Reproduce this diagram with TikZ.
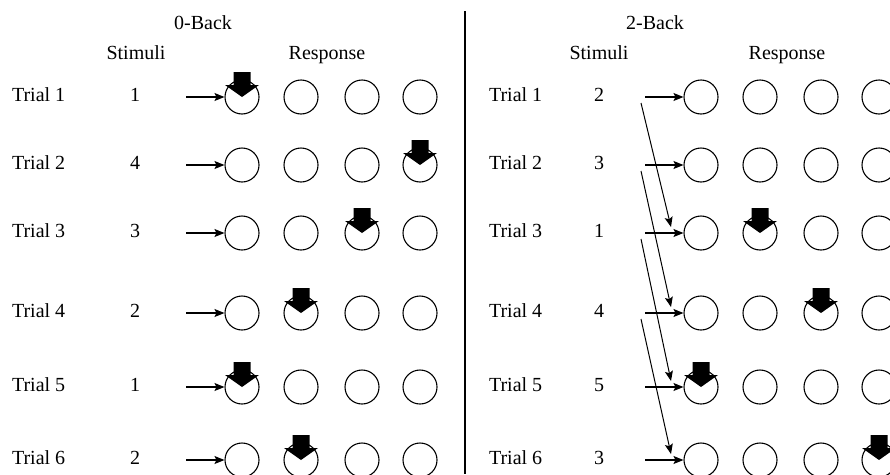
\documentclass[tikz,border=0pt]{standalone}
\usepackage{fontspec}
\setmainfont{Liberation Serif}
\usetikzlibrary{arrows.meta}

\newcommand{\press}[1]
{
  \fill[black] (#1.center) -- ++(-17,-12) -- ++(8.5,0) -- ++(0,-13)
    -- ++(17,0) -- ++(0,13) -- ++(8.5,0) -- cycle;
}

\begin{document}
\begin{tikzpicture}[x=1pt,y=-1pt,
    every node/.style={font=\fontsize{20}{24}\selectfont},
    key/.style={draw,circle,minimum size=34pt,inner sep=0pt,line width=1.1pt},
    cue/.style={-{Stealth[length=10pt,width=8pt,inset=2pt]},line width=1.1pt},
    lag/.style={-{Stealth[length=10pt,width=8pt,inset=2pt]},line width=1pt}]
  \useasboundingbox (0,0) rectangle (890,474);

  % headings
  \node[anchor=base] (zeroback) at (203,29) {0-Back};
  \node[anchor=base] (Lstim) at (136,59) {Stimuli};
  \node[anchor=base] (Lresp) at (327,59) {Response};
  \node[anchor=base] (twoback) at (655,29) {2-Back};
  \node[anchor=base] (Rstim) at (599,59) {Stimuli};
  \node[anchor=base] (Rresp) at (787,59) {Response};

  \coordinate (divtop) at (465,11);
  \coordinate (divbot) at (465,474);
  \draw[line width=1.2pt] (divtop) -- (divbot);

  % 0-back
  \foreach \y/\s/\p [count=\r] in {97/1/1,165/4/4,233/3/3,313/2/2,387/1/1,460/2/2}
  {
    \node[anchor=base west] (L\r-trial) at (8.5,\y+4) {Trial \r};
    \node[anchor=base] (L\r-stim) at (135,\y+4) {\s};
    \foreach \k/\x in {1/242,2/301,3/362,4/420}
      \node[key] (L\r-\k) at (\x,\y) {};
    \coordinate (L\r-in) at (186,\y);
    \draw[cue] (L\r-in) -- (L\r-1);
    \press{L\r-\p}
  }

  % 2-back
  \foreach \y/\s/\p [count=\r] in {97/2/0,165/3/0,233/1/2,313/4/3,387/5/1,460/3/4}
  {
    \node[anchor=base west] (R\r-trial) at (485.5,\y+4) {Trial \r};
    \node[anchor=base] (R\r-stim) at (599,\y+4) {\s};
    \foreach \k/\x in {1/701,2/760,3/821,4/879}
      \node[key] (R\r-\k) at (\x,\y) {};
    \coordinate (R\r-in) at (645,\y);
    \coordinate (R\r-from) at (641,\y+6);
    \coordinate (R\r-to) at (671,\y-6);
    \draw[cue] (R\r-in) -- (R\r-1);
    \ifnum\p>0 \press{R\r-\p}\fi
  }

  \foreach \r in {1,...,4}
  {
    \pgfmathtruncatemacro{\t}{\r+2}
    \draw[lag] (R\r-from) -- (R\t-to);
  }
\end{tikzpicture}
\end{document}
